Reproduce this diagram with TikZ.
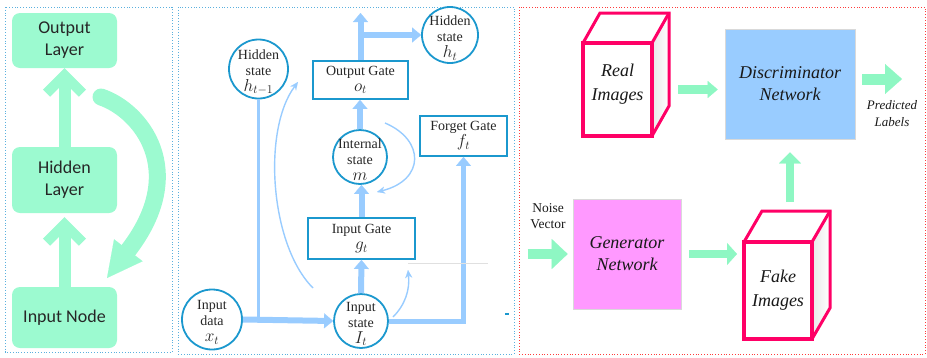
\documentclass[tikz,border=0pt]{standalone}
\usepackage{fontspec}
\setmainfont{Liberation Serif}
\newfontfamily\carl{Carlito}
\usetikzlibrary{arrows.meta,backgrounds}
\definecolor{mint}{HTML}{9CFAD0}
\definecolor{mintarrow}{HTML}{8EF7C3}
\definecolor{lblue}{HTML}{99CCFF}
\definecolor{cblue}{HTML}{1B98CE}
\definecolor{pinkc}{HTML}{FF0066}
\definecolor{genfill}{HTML}{FF99FF}
\definecolor{discfill}{HTML}{99CCFF}
\definecolor{bordA}{HTML}{5BB0DE}
\definecolor{bordB}{HTML}{FF3B3B}
\newcommand{\mth}[1]{{\fontsize{17}{15}\selectfont$#1$}}
\begin{document}
\begin{tikzpicture}[x=1pt,y=-1pt,
  layer/.style={rectangle, rounded corners=8pt, fill=mint, minimum width=105pt, align=center, font=\carl\fontsize{18}{22}\selectfont, text=black!85, inner sep=0pt},
  shaft/.style={line width=12pt, draw=mint},
  chev/.style={line width=10pt, draw=mint, line join=miter, line cap=butt},
  cnode/.style={circle, draw=cblue, line width=1.8pt, fill=white, inner sep=0pt},
  clab/.style={align=center, font=\fontsize{14}{16}\selectfont, text=black!85, yshift=-3pt},
  gbox/.style={rectangle, draw=cblue, line width=1.8pt, fill=white, inner sep=0pt, align=center, font=\fontsize{14}{16}\selectfont, text=black!85},
  flow/.style={draw=lblue, line width=6pt, -{Triangle[length=9pt,width=15pt,line width=0.1pt]}},
  thinarr/.style={draw=lblue, line width=1.4pt, -{Stealth[length=8pt,width=7pt,line width=0.1pt]}},
  cubefront/.style={rectangle, draw=pinkc, line width=3.5pt, fill=white, outer sep=0pt, inner sep=0pt},
  cubetxt/.style={align=center, font=\itshape\fontsize{18}{24}\selectfont, text=black!90},
  cubeedge/.style={draw=pinkc, line width=3pt, line join=miter},
  netbox/.style={rectangle, draw=black!15, line width=0.6pt, minimum width=#1, align=center, font=\itshape\fontsize{18}{22}\selectfont, text=black!90},
  marrow/.style={draw=mintarrow}
]
\useasboundingbox (0,0) rectangle (927,357);
% panel borders
\draw[bordA, dotted, line width=0.8pt] (5,7) rectangle (172,352);
\draw[bordA, dotted, line width=0.8pt] (178,7) rectangle (514,354);
\draw[bordB, dotted, line width=0.8pt] (519,7) rectangle (925,354);

% ---------- panel 1 ----------
\node[layer, minimum height=55pt] (out) at (64.5,40.5) {Output\\Layer};
\node[layer, minimum height=66pt] (hid) at (64.5,180) {Hidden\\Layer};
\node[layer, minimum height=61pt] (inp) at (64.5,317.5) {Input Node};
\coordinate (v1) at ([yshift=-7pt]out.south);
\coordinate (v2) at ([yshift=-11pt]hid.south);
\draw[shaft] (hid.north) -- (v1);
\draw[chev] ([shift={(-18,18)}]v1) -- (v1) -- ([shift={(18,18)}]v1);
\draw[shaft] (inp.north) -- (v2);
\draw[chev] ([shift={(-18,18)}]v2) -- (v2) -- ([shift={(18,18)}]v2);
\coordinate (cstart) at (101,97);
\coordinate (cend) at (107,278);
\draw[mint, line width=17pt, line cap=round, -{Triangle[length=35pt,width=36pt,line width=0.1pt]}] (cstart) .. controls (140,110) and (190,170) .. (cend);

% ---------- panel 2 ----------
\node[cnode, minimum size=59pt, label={[clab]center:{Hidden\\state\\\mth{h_{t-1}}}}] (hprev) at (258.5,69) {};
\node[gbox, minimum width=95pt, minimum height=38pt] (og) at (360.5,80) {Output Gate\\\mth{o_t}};
\node[cnode, minimum size=56pt, label={[clab]center:{Hidden\\state\\\mth{h_t}}}] (ht) at (450,35) {};
\node[cnode, minimum size=54pt, label={[clab]center:{Internal\\state\\\mth{m}}}] (ist) at (360,157) {};
\node[gbox, minimum width=87pt, minimum height=40pt] (fg) at (463.5,136) {Forget Gate\\\mth{f_t}};
\node[gbox, minimum width=107pt, minimum height=41pt] (ig) at (361.5,238.5) {Input Gate\\\mth{g_t}};
\node[cnode, minimum size=60pt, label={[clab]center:{Input\\data\\\mth{x_t}}}] (xt) at (212,319.5) {};
\node[cnode, minimum size=54pt, label={[clab]center:{Input\\state\\\mth{I_t}}}] (it) at (361,321) {};

\draw[draw=lblue, line width=2.5pt] (hprev.south) -- (hprev.south |- xt.east);
\draw[flow] (xt.east) -- (it.west);
\draw[flow] (it.north) -- (ig.south);
\draw[flow] (ig.north) -- (ig.north |- ist.south);
\draw[flow] (ist.north) -- (ist.north |- og.south);
\coordinate (ogtop) at (362,13);
\draw[flow] (og.north) -- (og.north |- ogtop);
\draw[flow] (og.north |- ht.west) -- (ht.west);
\draw[flow, line width=5pt] (it.east) -| (fg.south);
\coordinate (c1s) at (313,288);
\coordinate (c1e) at (298,82);
\draw[thinarr] (c1s) .. controls (270,245) and (262,130) .. (c1e);
\coordinate (c2s) at (393,317);
\coordinate (c2e) at (408,270);
\draw[thinarr] (c2s) .. controls (405,305) and (410,290) .. (c2e);
\coordinate (c3s) at (385,123);
\coordinate (c3e) at (377,192);
\draw[thinarr] (c3s) .. controls (425,140) and (425,180) .. (c3e);
\draw[black!12, line width=1pt] (408,263) -- (488,263);
\draw[cblue, line width=1.5pt] (505,314) -- (509,314);

% ---------- panel 3 ----------
\node[cubefront, minimum width=69pt, minimum height=93pt, label={[cubetxt,yshift=5pt]center:{Real\\Images}}] (real) at (617.5,89.5) {};
\node[cubefront, minimum width=68pt, minimum height=97pt, label={[cubetxt]center:{Fake\\Images}}] (fake) at (778,290.5) {};
\begin{pgfonlayer}{background}
\shade[left color=black!9, right color=white] (real.north east) -- ++(17,-30) -- ([shift={(17,-30)}]real.south east) -- (real.south east) -- cycle;
\fill[white] (real.north west) -- ++(17,-30) -- ([shift={(17,-30)}]real.north east) -- (real.north east) -- cycle;
\shade[left color=black!9, right color=white] (fake.north east) -- ++(18,-31) -- ([shift={(18,-31)}]fake.south east) -- (fake.south east) -- cycle;
\fill[white] (fake.north west) -- ++(18,-31) -- ([shift={(18,-31)}]fake.north east) -- (fake.north east) -- cycle;
\end{pgfonlayer}
\draw[cubeedge] (real.north west) -- ++(17,-30) -- ([shift={(17,-30)}]real.north east) -- ([shift={(17,-30)}]real.south east) -- (real.south east);
\draw[cubeedge] (real.north east) -- ++(17,-30);
\draw[cubeedge] (fake.north west) -- ++(18,-31) -- ([shift={(18,-31)}]fake.north east) -- ([shift={(18,-31)}]fake.south east) -- (fake.south east);
\draw[cubeedge] (fake.north east) -- ++(18,-31);

\node[netbox=130pt, fill=discfill, minimum height=110pt] (disc) at (790,84) {Discriminator\\Network};
\node[netbox=108pt, fill=genfill, minimum height=110pt] (gen) at (627,254) {Generator\\Network};
\node[font=\itshape\fontsize{13}{17}\selectfont, align=center, text=black!90] (pl) at (892,114) {Predicted\\Labels};
\node[font=\fontsize{13.5}{16}\selectfont, align=center, text=black!90] (nv) at (548,216) {Noise\\Vector};
\coordinate (plend) at (902,79);

\draw[marrow, line width=9pt, -{Triangle[length=10pt,width=17pt,line width=0.1pt]}] ([xshift=26pt]real.east) -- ([xshift=-7pt]disc.west |- real.east);
\draw[marrow, line width=11pt, -{Triangle[length=17pt,width=30pt,line width=0.1pt]}] ([xshift=7pt,yshift=5pt]disc.east) -- (plend);
\draw[marrow, line width=10pt, -{Triangle[length=16pt,width=30pt,line width=0.1pt]}] ([xshift=-45pt]gen.west) -- ([xshift=-5pt]gen.west);
\draw[marrow, line width=8pt, -{Triangle[length=10pt,width=22pt,line width=0.1pt]}] ([xshift=8pt]gen.east) -- ([xshift=-7pt]fake.west |- gen.east);
\draw[marrow, line width=8pt, -{Triangle[length=11pt,width=22pt,line width=0.1pt]}] ([yshift=40pt]fake.north -| disc.south) -- ([yshift=-13pt]disc.south);
\end{tikzpicture}
\end{document}
